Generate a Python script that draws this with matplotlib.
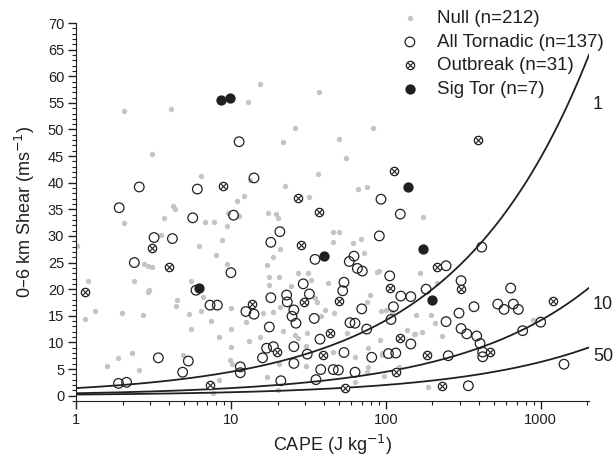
import numpy as np
import matplotlib
matplotlib.use("Agg")
import matplotlib.pyplot as plt
from matplotlib.ticker import MultipleLocator, LogLocator, NullFormatter, FuncFormatter

plt.rcParams['font.family'] = ['Liberation Sans', 'DejaVu Sans']

# Null cases (CAPE J/kg, 0-6 km shear m/s)
null_cape = [15.4, 12.8, 2.04, 4.09, 37.2, 25.9, 21.8, 3.11, 6.41, 36.3, 22.4, 13.3, 31.9, 12.2,
             11.0, 4.25, 4.36, 17.4, 19.5, 20.0, 9.53, 3.72, 2.04, 6.80, 7.77, 9.48, 11.3, 8.80,
             6.22, 3.52, 1.02, 2.76, 2.90, 3.08, 1.19, 2.38, 2.97, 2.93, 1.14, 1.33, 1.99, 2.72,
             4.47, 4.40, 5.50, 5.37, 5.50, 1.58, 1.88, 2.31, 2.56, 4.93, 6.41, 6.58, 7.41, 8.42,
             10.0, 10.0, 9.97, 9.87, 10.1, 8.38, 7.70, 13.1, 15.3, 12.5, 17.0, 18.8, 17.7, 20.5,
             17.7, 20.7, 16.2, 20.7, 25.9, 27.2, 30.5, 30.4, 34.9, 32.7, 31.6, 20.2, 8.01, 9.40,
             45.8, 50.1, 68.8, 72.3, 45.4, 61.7, 27.2, 42.5, 87.4, 90.8, 24.4, 35.8, 76.0, 92.7,
             101, 18.6, 40.5, 46.3, 38.0, 21.8, 31.1, 55.9, 63.3, 77.1, 91.7, 94.9, 94.9, 152,
             156, 109, 20.5, 17.2, 63.3, 97.3, 122, 77.1, 175, 166, 79.1, 213, 195, 154, 171,
             229, 896, 188, 138, 208, 45.8, 75.3, 50.1, 83.0, 55.3, 66.5, 76.0]
null_shear = [58.6, 55.2, 53.5, 53.8, 57.1, 50.3, 47.6, 45.3, 41.3, 41.6, 39.4, 40.5, 37.3, 37.5,
              36.6, 35.6, 35.0, 34.4, 34.1, 33.3, 34.4, 33.3, 32.4, 32.6, 32.7, 31.9, 33.7, 29.2,
              28.2, 30.2, 28.2, 24.7, 24.3, 24.1, 21.5, 21.5, 19.8, 19.5, 14.4, 15.9, 15.5, 15.1,
              18.0, 16.8, 21.5, 15.3, 12.6, 5.6, 7.1, 8.05, 4.8, 7.7, 15.9, 18.6, 14.0, 11.1,
              9.1, 12.6, 16.4, 6.7, 5.9, 3.0, 0.5, 10.3, 11.1, 13.9, 24.5, 26.1, 22.3, 22.3,
              20.8, 27.5, 15.6, 16.7, 11.4, 10.9, 9.3, 5.5, 18.3, 21.8, 23.0, 1.0, 26.4, 24.8,
              30.8, 30.8, 29.4, 26.8, 28.8, 28.7, 23.0, 21.2, 23.3, 23.5, 20.6, 17.6, 17.6, 15.9,
              16.1, 15.8, 16.1, 15.6, 14.9, 12.2, 11.8, 11.8, 7.2, 8.9, 10.4, 8.0, 7.6, 11.5,
              15.1, 15.8, 6.0, 3.5, 2.6, 3.7, 5.4, 5.4, 33.5, 23.0, 18.9, 21.2, 15.1, 11.6, 12.0,
              11.2, 14.3, 1.65, 12.3, 13.6, 8.2, 4.4, 48.3, 50.3, 44.7, 38.9, 39.2]

# All tornadic cases
tor_cape = [11.3, 14.1, 2.56, 6.07, 1.9, 10.4, 5.67, 3.19, 4.19, 2.38, 10.0, 5.95, 7.33, 8.17,
            12.5, 14.1, 17.7, 18.1, 20.7, 18.1, 22.9, 23.1, 25.5, 24.8, 26.3, 29.3, 32.1, 34.9,
            34.5, 37.6, 25.5, 17.0, 16.0, 31.1, 25.5, 11.5, 11.5, 5.31, 4.88, 3.40, 1.88, 2.12,
            21.0, 35.4, 38.0, 18.8, 90.8, 62.3, 58.1, 65.5, 70.5, 106, 53.7, 52.7, 125, 145,
            112, 69.9, 58.7, 63.3, 108, 75.3, 145, 53.7, 81.1, 104, 116, 45.8, 49.4, 63.3,
            124, 416, 245, 306, 182, 640, 371, 528, 580, 666, 717, 245, 297, 306, 333, 386,
            406, 422, 422, 765, 1000, 1414, 341, 253, 93.1]
tor_shear = [47.7, 40.9, 39.2, 38.8, 35.3, 33.9, 33.4, 29.7, 29.5, 25.0, 23.1, 19.8, 17.0, 17.0,
             15.8, 15.3, 12.9, 18.4, 30.8, 28.8, 18.9, 17.6, 16.1, 14.9, 13.6, 21.0, 19.1, 25.6,
             14.5, 10.6, 9.2, 8.9, 7.1, 7.8, 6.05, 5.4, 4.3, 6.5, 4.4, 7.1, 2.3, 2.5,
             2.8, 3.0, 4.9, 9.2, 30.0, 26.2, 25.2, 23.9, 23.4, 22.5, 21.3, 19.7, 18.7, 18.6,
             16.7, 16.3, 13.7, 13.6, 14.3, 12.5, 9.7, 8.1, 7.2, 7.9, 8.0, 4.9, 4.8, 4.4,
             34.1, 27.9, 24.4, 21.6, 20.0, 20.2, 16.7, 17.2, 16.2, 17.2, 16.2, 13.9, 15.5, 12.6,
             11.6, 11.2, 9.8, 8.2, 7.3, 12.2, 13.8, 5.9, 1.85, 7.5, 36.9]

# Outbreak cases
outbreak_cape = [1.14, 3.08, 4.0, 7.33, 13.6, 19.8, 28.4, 29.6, 8.85, 27.1, 37.0, 113, 394,
                 49.9, 43.6, 39.1, 107, 124, 116, 54.6, 215, 306, 1206, 184, 471, 229]
outbreak_shear = [19.5, 27.7, 24.1, 2.0, 17.3, 8.2, 28.3, 17.5, 39.4, 37.1, 34.5, 42.2, 48.0,
                  17.8, 11.7, 7.6, 20.3, 10.9, 4.5, 1.5, 24.2, 20.0, 17.8, 7.6, 8.2, 1.85]

# Significant tornado cases
sig_cape = [8.6, 9.9, 6.2, 40.0, 139, 175, 198]
sig_shear = [55.5, 56.0, 20.3, 26.3, 39.2, 27.5, 17.9]

# Bulk Richardson number isopleths
brn_values = [1, 10, 50]
brn_labels = ['1', '10', '50']
brn_label_shear = [54.6, 17.2, 7.3]

ink = '#231f20'

fig = plt.figure(figsize=(6.15, 4.67), dpi=100)
ax = fig.add_axes([0.1236, 0.1403, 0.8341, 0.8104])

ax.scatter(null_cape, null_shear, s=15, color='#c4c4c4', lw=0, zorder=2)

cape_line = np.logspace(0, np.log10(2050), 300)
for brn, lab, ly in zip(brn_values, brn_labels, brn_label_shear):
    ax.plot(cape_line, np.sqrt(2 * cape_line / brn), color=ink, lw=1.3, zorder=3)
    ax.text(2180, ly, lab, fontsize=13, color=ink, ha='left', va='center', clip_on=False)

ax.scatter(tor_cape, tor_shear, s=48, facecolor='none', edgecolor=ink, lw=0.9, zorder=4)
ax.scatter(outbreak_cape, outbreak_shear, s=36, facecolor='white', edgecolor=ink, lw=0.9, zorder=5)
ax.scatter(outbreak_cape, outbreak_shear, s=22, marker='x', color=ink, lw=0.8, zorder=6)
ax.scatter(sig_cape, sig_shear, s=55, color=ink, lw=0, zorder=7)

ax.set_xscale('log')
ax.set_xlim(1, 2050)
ax.set_ylim(-1.1, 70)

ax.spines['top'].set_visible(False)
ax.spines['right'].set_visible(False)
ax.spines['left'].set_color(ink)
ax.spines['bottom'].set_color(ink)

ax.xaxis.set_major_locator(LogLocator(base=10, numticks=10))
ax.xaxis.set_minor_locator(LogLocator(base=10, subs=np.arange(2, 10), numticks=10))
ax.xaxis.set_major_formatter(FuncFormatter(lambda v, p: f'{v:g}'))
ax.xaxis.set_minor_formatter(NullFormatter())
ax.yaxis.set_major_locator(MultipleLocator(5))
ax.yaxis.set_minor_locator(MultipleLocator(1))

ax.tick_params(which='major', direction='out', length=5.5, width=1, colors=ink, labelsize=10.5, pad=3)
ax.tick_params(which='minor', direction='out', length=3, width=0.8, colors=ink)

ax.set_xlabel('CAPE (J kg$^{-1}$)', fontsize=13, color=ink, labelpad=4)
ax.set_ylabel('0–6 km Shear (ms$^{-1}$)', fontsize=13, color=ink, labelpad=8)

# legend
h1 = ax.scatter([], [], s=15, color='#c4c4c4', lw=0)
h2 = ax.scatter([], [], s=48, facecolor='none', edgecolor=ink, lw=0.9)
h3a = ax.scatter([], [], s=36, facecolor='white', edgecolor=ink, lw=0.9)
h3b = ax.scatter([], [], s=22, marker='x', color=ink, lw=0.8)
h4 = ax.scatter([], [], s=55, color=ink, lw=0)
fig.legend([h1, h2, (h3a, h3b), h4],
           ['Null (n=212)', 'All Tornadic (n=137)', 'Outbreak (n=31)', 'Sig Tor (n=7)'],
           loc='upper left', bbox_to_anchor=(0.652, 0.978), frameon=False, fontsize=13.5,
           handlelength=0.95, handletextpad=0.95, labelspacing=0.34, borderpad=0,
           borderaxespad=0, labelcolor=ink)

fig.savefig('out.png', dpi=100)
